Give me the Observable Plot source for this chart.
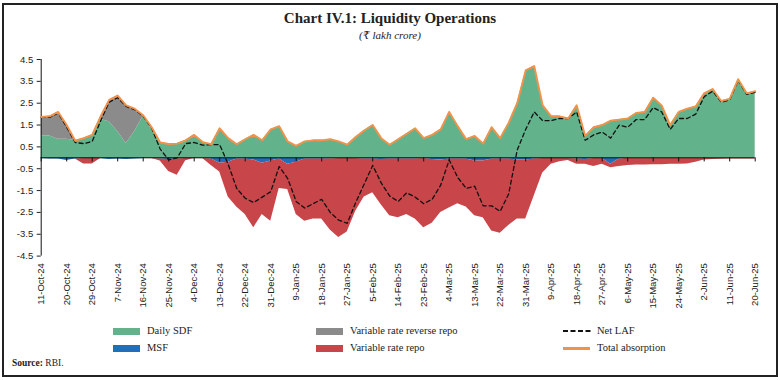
<!DOCTYPE html>
<html>
<head>
<meta charset="utf-8">
<script src="https://cdn.jsdelivr.net/npm/d3@7"></script>
<script src="https://cdn.jsdelivr.net/npm/@observablehq/plot@0.6"></script>
<style>
  body { margin: 0; background: #fff; }
  #wrap { position: relative; width: 780px; height: 380px; overflow: hidden; font-family: "Liberation Serif", "DejaVu Serif", serif; color: #222; }
  #frame { position: absolute; left: 2px; top: 3px; width: 776px; height: 374px; border: 2.5px solid #222; box-sizing: border-box; pointer-events: none; z-index: 5; }
  #title { position: absolute; left: 0; top: 9px; width: 780px; text-align: center; font-weight: bold; font-size: 15px; line-height: 18px; }
  #sub { position: absolute; left: 0; top: 29px; width: 780px; text-align: center; font-style: italic; font-size: 11px; line-height: 13px; }
  #chart { position: absolute; left: 0; top: 48px; }
  .lg { position: absolute; font-size: 10.5px; line-height: 12px; white-space: nowrap; }
  .sw { position: absolute; }
  #src { position: absolute; left: 12px; top: 357px; font-size: 9.5px; line-height: 12px; }
</style>
</head>
<body>
<div id="wrap">
  <div id="title">Chart IV.1: Liquidity Operations</div>
  <div id="sub">(₹ lakh crore)</div>
  <div id="chart"></div>
  <div id="legend"></div>
  <div id="src"><b>Source:</b> RBI.</div>
  <div id="frame"></div>
</div>
<script>
// ---- data (₹ lakh crore), one reading every 3 days from 11-Oct-24 ----
const startLabel = "11-Oct-24";
const stepDays = 3;
const dailySDF = [1.0,1.0,0.85,0.85,0.78,0.9,1.05,1.75,1.65,1.2,0.65,1.2,1.9,1.3,0.7,
  0.63,0.65,0.8,1.05,0.72,0.62,
  1.35,0.9,0.62,0.85,1.05,0.8,1.3,1.45,0.75,0.55,0.75,0.8,0.8,0.85,0.75,0.6,0.95,1.25,1.5,0.9,0.6,
  0.85,1.1,1.35,0.9,1.05,1.3,2.1,1.45,0.85,1.0,0.65,1.4,0.9,1.6,2.5,4.0,4.2,2.4,1.9,1.9,1.8,2.4,
  1.0,1.4,1.5,1.7,1.75,1.8,2.05,2.1,2.75,2.4,1.5,2.1,2.25,2.35,2.95,3.15,2.6,2.7,3.6,2.95,3.05];
const vrrr = [0.87,0.9,1.25,0.65,0,0,0,0.15,1.0,1.65,1.75,1.05,0.05,0.1,
  0,0,0,0,0,0,0,0,0,0,0,0,0,0,0,0,0,0,0,0,0,0,0,0,0,0,0,0,0,0,0,0,0,0,0,0,0,0,0,0,0,0,0,0,0,0,0,0,0,0,0,0,0,0,0,0,0,0,0,0,0,0,0,0,0,0,0,0,0,0,0];
const msf = [-0.03,-0.05,-0.05,-0.12,-0.05,-0.03,-0.03,-0.03,-0.08,-0.05,-0.08,-0.05,-0.03,-0.03,-0.05,
  -0.08,-0.05,-0.03,-0.03,-0.03,-0.05,-0.25,-0.2,-0.05,-0.05,-0.1,-0.25,-0.15,-0.05,-0.3,-0.2,
  -0.05,-0.05,-0.05,-0.05,-0.03,-0.03,-0.03,-0.05,-0.05,-0.08,-0.05,-0.05,-0.05,-0.05,-0.03,-0.08,
  -0.1,-0.05,-0.05,-0.05,-0.15,-0.15,-0.05,-0.05,-0.05,-0.1,-0.1,-0.05,-0.03,-0.03,-0.03,-0.03,
  -0.05,-0.08,-0.03,-0.03,-0.3,-0.05,
  -0.02,-0.02,-0.02,-0.02,-0.02,-0.02,-0.02,-0.02,-0.02,-0.02,-0.02,-0.02,-0.02,-0.02,-0.02,-0.02];
const varRepo = [0,0,0,0,0,-0.25,-0.25,0,0,0,0,0,0,0,-0.1,-0.55,-0.75,-0.1,0,0,-0.3,-0.4,
  -1.6,-2.2,-2.55,-3.1,-2.35,-2.75,-1.35,-1.15,-2.4,-2.85,-2.75,-2.75,-3.25,-3.62,-3.37,-2.42,
  -1.75,-1.55,-2.07,-2.6,-2.7,-2.55,-2.75,-3.17,-2.92,-2.4,-2.25,-2.05,-2.2,-2.5,-2.6,-3.3,-3.4,
  -3.05,-2.7,-2.7,-1.7,-0.67,-0.27,-0.15,-0.09,-0.25,-0.22,-0.37,-0.27,-0.15,-0.35,-0.33,-0.31,
  -0.31,-0.3,-0.3,-0.28,-0.28,-0.26,-0.18,-0.08,-0.06,-0.05,-0.04,-0.04,-0.03,-0.03];
const netLAF = [1.85,1.85,2.05,1.4,0.7,0.65,0.75,1.7,2.55,2.75,2.35,2.2,1.9,1.35,0.4,-0.1,0.0,0.65,
  0.7,0.58,0.6,0.6,-0.3,-1.4,-1.85,-2.05,-1.8,-1.55,-0.4,-0.95,-2.0,-2.3,-2.1,-1.9,-2.5,-2.85,
  -3.0,-2.05,-1.2,-0.35,-1.15,-1.75,-2.0,-1.6,-1.8,-2.1,-1.9,-1.25,-0.1,-0.9,-1.4,-1.3,-2.2,-2.2,
  -2.45,-1.65,0.35,1.3,2.1,1.7,1.7,1.8,1.8,2.1,0.8,1.05,1.18,0.9,1.5,1.4,1.75,1.75,2.3,2.1,1.3,
  1.8,1.8,2.0,2.8,3.05,2.55,2.65,3.55,2.9,3.0];
const tickLabels = ["11-Oct-24","20-Oct-24","29-Oct-24","7-Nov-24","16-Nov-24","25-Nov-24",
  "4-Dec-24","13-Dec-24","22-Dec-24","31-Dec-24","9-Jan-25","18-Jan-25","27-Jan-25","5-Feb-25",
  "14-Feb-25","23-Feb-25","4-Mar-25","13-Mar-25","22-Mar-25","31-Mar-25","9-Apr-25","18-Apr-25",
  "27-Apr-25","6-May-25","15-May-25","24-May-25","2-Jun-25","11-Jun-25","20-Jun-25"];
const yTicks = [-4.5,-3.5,-2.5,-1.5,-0.5,0.5,1.5,2.5,3.5,4.5];

const GREEN = "#62b38b", GRAY = "#8b8b8b", BLUE = "#1f6fbd", RED = "#c8454a", ORANGE = "#f2924a";

const legendItems = [
  {label: "Daily SDF", kind: "box", color: GREEN, col: 0, row: 0},
  {label: "Variable rate reverse repo", kind: "box", color: GRAY, col: 1, row: 0},
  {label: "Net LAF", kind: "dash", color: "#111", col: 2, row: 0},
  {label: "MSF", kind: "box", color: BLUE, col: 0, row: 1},
  {label: "Variable rate repo", kind: "box", color: RED, col: 1, row: 1},
  {label: "Total absorption", kind: "line", color: ORANGE, col: 2, row: 1}
];

const parse = d3.utcParse("%d-%b-%y");
const start = parse(startLabel);
const tickDates = tickLabels.map(parse);
const end = tickDates[tickDates.length - 1];

const rows = dailySDF.map((s, i) => ({
  date: d3.utcDay.offset(start, i * stepDays),
  sdf: s,
  total: s + vrrr[i],
  msf: msf[i],
  inj: msf[i] + varRepo[i],
  net: netLAF[i]
}));

const chart = Plot.plot({
  width: 780,
  height: 265,
  marginLeft: 40.7,
  marginRight: 25.3,
  marginTop: 11,
  marginBottom: 57.4,
  x: {type: "utc", domain: [start, end]},
  y: {domain: [-4.5, 4.5]},
  style: {fontFamily: "'Liberation Sans', Arial, sans-serif", fontSize: "9.5px", color: "#222", background: "transparent", overflow: "visible"},
  marks: [
    Plot.areaY(rows, {x: "date", y1: 0, y2: "sdf", fill: GREEN}),
    Plot.areaY(rows, {x: "date", y1: "sdf", y2: "total", fill: GRAY}),
    Plot.areaY(rows, {x: "date", y1: 0, y2: "msf", fill: BLUE}),
    Plot.areaY(rows, {x: "date", y1: "msf", y2: "inj", fill: RED}),
    Plot.ruleY([0], {stroke: "#111", strokeWidth: 1}),
    Plot.ruleX(tickDates, {x: d => d, y1: 0, y2: -0.19, stroke: "#111", strokeWidth: 1}),
    Plot.ruleX([start], {stroke: "#111", strokeWidth: 1}),
    Plot.lineY(rows, {x: "date", y: "net", stroke: "#111", strokeWidth: 1.3, strokeDasharray: "4,3"}),
    Plot.lineY(rows, {x: "date", y: "total", stroke: ORANGE, strokeWidth: 1.9}),
    Plot.axisY({ticks: yTicks, tickFormat: d => d.toFixed(1), tickSize: 4, tickPadding: 4, label: null}),
    Plot.axisX({ticks: tickDates, tickFormat: d3.utcFormat("%-d-%b-%y"), tickRotate: -90, tickSize: 0, tickPadding: 7, label: null})
  ]
});
document.getElementById("chart").appendChild(chart);

// legend
const colX = [113, 316, 563];
const rowY = [331, 348];
const lg = document.getElementById("legend");
legendItems.forEach(it => {
  const x = colX[it.col], y = rowY[it.row];
  const sw = document.createElement("div");
  sw.className = "sw";
  if (it.kind === "box") {
    Object.assign(sw.style, {left: x + "px", top: (y - 3.5) + "px", width: "27px", height: "7px", background: it.color});
  } else if (it.kind === "line") {
    Object.assign(sw.style, {left: x + "px", top: (y - 1.5) + "px", width: "27px", height: "3px", background: it.color});
  } else {
    sw.innerHTML = `<svg width="28" height="4" style="display:block"><line x1="0" y1="2" x2="28" y2="2" stroke="${it.color}" stroke-width="2" stroke-dasharray="5,2.5"/></svg>`;
    Object.assign(sw.style, {left: x + "px", top: (y - 2) + "px"});
  }
  lg.appendChild(sw);
  const t = document.createElement("div");
  t.className = "lg";
  t.textContent = it.label;
  Object.assign(t.style, {left: (x + 34) + "px", top: (y - 6.5) + "px"});
  lg.appendChild(t);
});
</script>
</body>
</html>
